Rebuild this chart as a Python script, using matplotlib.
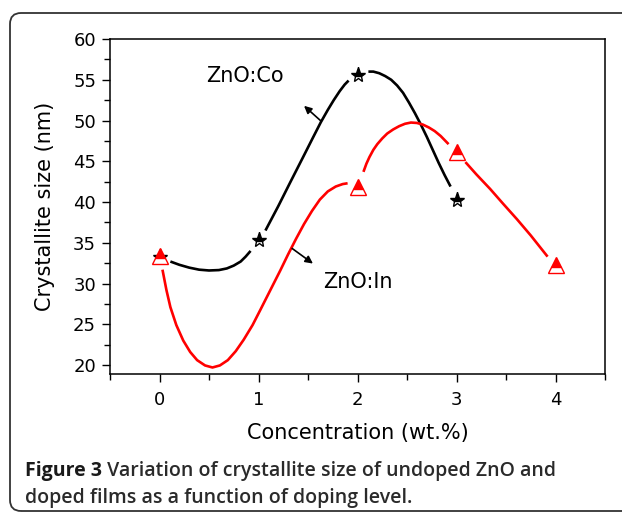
import matplotlib
matplotlib.use('Agg')
import matplotlib.pyplot as plt
from matplotlib.patches import FancyBboxPatch
from matplotlib.ticker import MultipleLocator


# measured crystallite sizes
co_conc = [0, 1, 2, 3]
co_size = [33.2, 35.3, 55.6, 40.3]

in_conc = [0, 2, 3, 4]
in_size = [33.4, 41.8, 46.1, 32.3]

# smoothed guide curves (one list per gap-separated piece)
co_curve_x = [
    [0.11, 0.2, 0.3, 0.4, 0.5, 0.6, 0.68, 0.75, 0.82, 0.87, 0.92],
    [1.07, 1.2, 1.32, 1.45, 1.55, 1.63, 1.7, 1.76, 1.82, 1.87, 1.91],
    [2.11, 2.16, 2.22, 2.28, 2.34, 2.4, 2.46, 2.52, 2.58, 2.64, 2.7, 2.76,
     2.82, 2.88, 2.94],
]
co_curve_y = [
    [32.7, 32.3, 31.95, 31.7, 31.6, 31.65, 31.85, 32.2, 32.7, 33.3, 34.0],
    [36.5, 39.5, 42.4, 45.5, 47.9, 49.8, 51.3, 52.5, 53.6, 54.4, 54.9],
    [56.0, 56.0, 55.8, 55.45, 55.0, 54.3, 53.4, 52.2, 50.9, 49.5, 48.0,
     46.4, 44.8, 43.3, 41.9],
]

in_curve_x = [
    [0.03, 0.07, 0.11, 0.17, 0.24, 0.31, 0.38, 0.46, 0.535, 0.61, 0.69,
     0.77, 0.85, 0.94, 1.02, 1.12, 1.22, 1.3, 1.38, 1.46, 1.54, 1.62,
     1.7, 1.78, 1.85, 1.9],
    [2.06, 2.09, 2.12, 2.16, 2.2, 2.25, 2.3, 2.36, 2.42, 2.48, 2.54, 2.6,
     2.66, 2.72, 2.78, 2.84, 2.88, 2.92],
    [3.09, 3.2, 3.34, 3.47, 3.61, 3.75, 3.92],
]
in_curve_y = [
    [31.7, 29.2, 27.1, 24.9, 23.0, 21.6, 20.6, 19.95, 19.7, 19.95, 20.6,
     21.7, 23.1, 24.9, 26.8, 29.2, 31.6, 33.6, 35.5, 37.3, 38.9, 40.3,
     41.3, 41.9, 42.2, 42.3],
    [43.7, 44.7, 45.5, 46.4, 47.1, 47.8, 48.4, 48.9, 49.3, 49.6, 49.75,
     49.7, 49.5, 49.15, 48.7, 48.1, 47.6, 47.1],
    [44.9, 43.4, 41.6, 39.8, 37.9, 35.9, 33.3],
]

x_ticks = [0, 1, 2, 3, 4]
y_ticks = [20, 25, 30, 35, 40, 45, 50, 55, 60]

caption_head = 'Figure 3'
caption_rest = ' Variation of crystallite size of undoped ZnO and'
caption_line2 = 'doped films as a function of doping level.'


plt.rcParams['font.family'] = 'DejaVu Sans'

W, H = 622, 517
fig = plt.figure(figsize=(W/100, H/100), dpi=100)

# rounded frame around figure + caption
frame = FancyBboxPatch((0.10, 0.06), 6.6, 4.98,
                       boxstyle='round,pad=0,rounding_size=0.11',
                       transform=fig.dpi_scale_trans,
                       fc='none', ec='#333333', lw=1.3)
fig.add_artist(frame)

ax = fig.add_axes([110/W, 1 - 374/H, 495/W, 335/H])

for xs, ys in zip(co_curve_x, co_curve_y):
    ax.plot(xs, ys, color='k', lw=1.9, solid_capstyle='butt',
            solid_joinstyle='round', zorder=2)
for xs, ys in zip(in_curve_x, in_curve_y):
    ax.plot(xs, ys, color='#ff0000', lw=1.9, solid_capstyle='butt',
            solid_joinstyle='round', zorder=3)

ax.plot(co_conc, co_size, ls='none', marker='*', ms=11, mew=1.0,
        mec='k', mfc='k', fillstyle='top', markerfacecoloralt='white',
        zorder=4)
ax.plot(in_conc, in_size, ls='none', marker='^', ms=12, mew=1.0,
        mec='#ff0000', mfc='#ff0000', fillstyle='top',
        markerfacecoloralt='white', zorder=5)

# curve labels with pointer arrows
arrow = dict(arrowstyle='-|>', color='k', lw=1.2, mutation_scale=11,
             shrinkA=0, shrinkB=0)
ax.annotate('', xy=(1.46, 51.8), xytext=(1.63, 49.95), arrowprops=arrow)
ax.annotate('', xy=(1.55, 32.45), xytext=(1.34, 34.3), arrowprops=arrow)
ax.text(0.47, 55.5, 'ZnO:Co', fontsize=15, va='center', ha='left')
ax.text(1.65, 30.2, 'ZnO:In', fontsize=15, va='center', ha='left')

ax.set_xlim(-0.5, 4.5)
ax.set_ylim(18.9, 60)
ax.set_xticks(x_ticks)
ax.set_yticks(y_ticks)
ax.xaxis.set_minor_locator(MultipleLocator(0.5))
ax.yaxis.set_minor_locator(MultipleLocator(2.5))
ax.tick_params(axis='both', which='both', direction='out', width=1.0,
               top=False, right=False, labelsize=13)
ax.tick_params(axis='both', which='major', length=6)
ax.tick_params(axis='both', which='minor', length=4)
ax.tick_params(axis='x', pad=6)
ax.tick_params(axis='y', pad=4)
for s in ax.spines.values():
    s.set_linewidth(1.1)

ax.set_xlabel('Concentration (wt.%)', fontsize=15)
ax.set_ylabel('Crystallite size (nm)', fontsize=15)
ax.xaxis.label.set_va('center')
ax.yaxis.label.set_va('center')
ax.xaxis.set_label_coords(0.5, -0.176)
ax.yaxis.set_label_coords(-0.131, 0.5)

# caption: bold lead-in followed by semibold text
cap_font = ['Open Sans', 'DejaVu Sans']
t1 = fig.text(25/W, 1 - 476/H, caption_head, fontsize=14, weight='bold',
              family=cap_font, color='#1a1a1a', va='baseline')
fig.canvas.draw()
bb = t1.get_window_extent()
fig.text(bb.x1/W, 1 - 476/H, caption_rest, fontsize=14, weight='semibold',
         family=cap_font, color='#2a2a2a', va='baseline')
fig.text(25/W, 1 - 503/H, caption_line2, fontsize=14, weight='semibold',
         family=cap_font, color='#2a2a2a', va='baseline')

fig.savefig('out.png', dpi=100)
